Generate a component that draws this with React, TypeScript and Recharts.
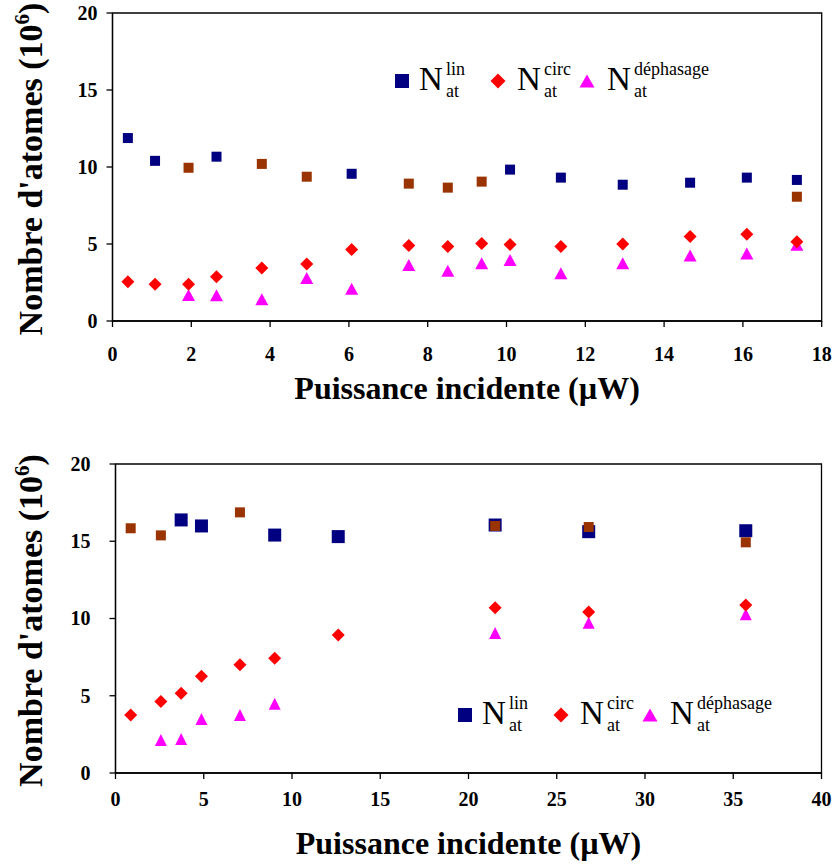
import { Label, Legend, ReferenceArea, Scatter, ScatterChart, XAxis, YAxis } from "recharts";

const FONT = '"Liberation Serif", "Times New Roman", serif';

const COLORS = {
  lin: "#000080",
  linAlt: "#993300",
  circ: "#FF0000",
  dephasage: "#FF00FF",
};

// top chart (0 - 18 µW)
const topTicksX = [0, 2, 4, 6, 8, 10, 12, 14, 16, 18];
const topLinX = [0.39, 1.08, 2.64, 6.07, 10.09, 11.38, 12.95, 14.66, 16.1, 17.37];
const topLinY = [11.88, 10.4, 10.67, 9.56, 9.83, 9.31, 8.85, 8.98, 9.31, 9.16];
const topLinAltX = [1.93, 3.79, 4.93, 7.52, 8.51, 9.37, 17.37];
const topLinAltY = [9.95, 10.2, 9.37, 8.92, 8.66, 9.05, 8.07];
const topCircX = [0.39, 1.08, 1.93, 2.64, 3.79, 4.93, 6.07, 7.52, 8.51, 9.37, 10.09, 11.38, 12.95, 14.66, 16.1, 17.37];
const topCircY = [2.55, 2.38, 2.38, 2.88, 3.44, 3.7, 4.65, 4.91, 4.83, 5.04, 4.96, 4.83, 5.0, 5.48, 5.63, 5.15];
const topDephX = [1.93, 2.64, 3.79, 4.93, 6.07, 7.52, 8.51, 9.37, 10.09, 11.38, 12.95, 14.66, 16.1, 17.37];
const topDephY = [1.69, 1.67, 1.41, 2.79, 2.1, 3.64, 3.27, 3.75, 3.96, 3.1, 3.75, 4.26, 4.39, 4.95];

// bottom chart (0 - 40 µW)
const bottomTicksX = [0, 5, 10, 15, 20, 25, 30, 35, 40];
const bottomLinX = [3.72, 4.87, 9.02, 12.62, 21.51, 26.81, 35.71];
const bottomLinY = [16.38, 15.99, 15.4, 15.3, 16.05, 15.62, 15.68];
const bottomLinAltX = [0.86, 2.57, 7.05, 21.51, 26.81, 35.71];
const bottomLinAltY = [15.84, 15.38, 16.87, 15.99, 15.92, 14.93];
const bottomCircX = [0.86, 2.57, 3.72, 4.87, 7.05, 9.02, 12.62, 21.51, 26.81, 35.71];
const bottomCircY = [3.75, 4.62, 5.16, 6.26, 7.01, 7.42, 8.93, 10.7, 10.42, 10.87];
const bottomDephX = [2.57, 3.72, 4.87, 7.05, 9.02, 21.51, 26.81, 35.71];
const bottomDephY = [2.14, 2.2, 3.5, 3.75, 4.49, 9.06, 9.73, 10.27];

const ticksY = [0, 5, 10, 15, 20];

const zip = (xs: number[], ys: number[]) => xs.map((x, i) => ({ x, y: ys[i] }));

const square = (size: number, color: string) => (p: any) =>
  <rect x={p.cx - size / 2} y={p.cy - size / 2} width={size} height={size} fill={color} />;

const diamond = (size: number, color: string) => (p: any) => {
  const h = size / 2;
  return (
    <polygon
      points={`${p.cx},${p.cy - h} ${p.cx + h},${p.cy} ${p.cx},${p.cy + h} ${p.cx - h},${p.cy}`}
      fill={color}
    />
  );
};

const triangle = (w: number, h: number, color: string) => (p: any) =>
  <polygon
    points={`${p.cx},${p.cy - h / 2} ${p.cx + w / 2},${p.cy + h / 2} ${p.cx - w / 2},${p.cy + h / 2}`}
    fill={color}
  />;

// tick labels drawn by hand so the serif font sticks
function XTick({ x, y, payload }: any) {
  return (
    <text x={x} y={y} dy="0.71em" textAnchor="middle" fontFamily={FONT} fontWeight="bold" fontSize={20} fill="#000">
      {payload.value}
    </text>
  );
}

function YTick({ x, y, payload }: any) {
  return (
    <text x={x} y={y} dy="0.34em" textAnchor="end" fontFamily={FONT} fontWeight="bold" fontSize={20} fill="#000">
      {payload.value}
    </text>
  );
}

function YTitle({ viewBox }: any) {
  const cx = viewBox.x + 42;
  const cy = viewBox.y + viewBox.height / 2 + 2;
  return (
    <text
      x={cx}
      y={cy}
      transform={`rotate(-90 ${cx} ${cy})`}
      textAnchor="middle"
      fontFamily={FONT}
      fontWeight="bold"
      fontSize={34}
      fill="#000"
    >
      Nombre d'atomes (10
      <tspan dy={-13} fontSize={21}>6</tspan>
      <tspan dy={13}>)</tspan>
    </text>
  );
}

function XTitle({ viewBox, dy }: any) {
  return (
    <text
      x={viewBox.x + viewBox.width / 2}
      y={viewBox.y + dy}
      textAnchor="middle"
      fontFamily={FONT}
      fontWeight="bold"
      fontSize={32}
      fill="#000"
    >
      Puissance incidente (µW)
    </text>
  );
}

function NLabel({ x, sup }: { x: number; sup: string }) {
  return (
    <g fontFamily={FONT} fill="#000">
      <text x={x} y={35} fontSize={33}>N</text>
      <text x={x + 27} y={20} fontSize={18}>{sup}</text>
      <text x={x + 27} y={42} fontSize={18}>at</text>
    </g>
  );
}

function AtomLegend() {
  return (
    <svg width={330} height={50} style={{ display: "block", overflow: "visible" }}>
      <rect x={5} y={19} width={14} height={14} fill={COLORS.lin} />
      <NLabel x={29} sup="lin" />
      <polygon points="108,18.5 115.5,26 108,33.5 100.5,26" fill={COLORS.circ} />
      <NLabel x={127} sup="circ" />
      <polygon points="197,19.5 204.5,32.5 189.5,32.5" fill={COLORS.dephasage} />
      <NLabel x={217} sup="déphasage" />
    </svg>
  );
}

const axisStroke = { stroke: "#000", strokeWidth: 1.3 };

export default function App() {
  return (
    <div
      style={{
        position: "absolute",
        left: 0,
        top: 0,
        width: 835,
        height: 865,
        background: "#fff",
        fontFamily: FONT,
      }}
    >
      <div style={{ position: "absolute", left: 0, top: 0 }}>
        <ScatterChart width={835} height={420} margin={{ top: 13, right: 13.3, bottom: 9, left: 0 }}>
          <XAxis
            type="number"
            dataKey="x"
            domain={[0, 18]}
            ticks={topTicksX}
            height={90}
            tickSize={6}
            tickMargin={20}
            tick={<XTick />}
            axisLine={axisStroke}
            tickLine={axisStroke}
          >
            <Label content={<XTitle dy={78} />} />
          </XAxis>
          <YAxis
            type="number"
            dataKey="y"
            domain={[0, 20]}
            ticks={ticksY}
            width={112.5}
            tickSize={6}
            tickMargin={9}
            tick={<YTick />}
            axisLine={axisStroke}
            tickLine={axisStroke}
          >
            <Label content={<YTitle />} />
          </YAxis>
          <ReferenceArea x1={0} x2={18} y1={0} y2={20} fill="none" stroke="#000" strokeWidth={1.3} />
          <Scatter data={zip(topDephX, topDephY)} shape={triangle(13, 12, COLORS.dephasage)} isAnimationActive={false} />
          <Scatter data={zip(topLinX, topLinY)} shape={square(10, COLORS.lin)} isAnimationActive={false} />
          <Scatter data={zip(topLinAltX, topLinAltY)} shape={square(10, COLORS.linAlt)} isAnimationActive={false} />
          <Scatter data={zip(topCircX, topCircY)} shape={diamond(13, COLORS.circ)} isAnimationActive={false} />
          <Legend
            layout="horizontal"
            verticalAlign="middle"
            align="center"
            content={() => <AtomLegend />}
            wrapperStyle={{ left: 390, top: 55, width: 330, height: 50 }}
          />
        </ScatterChart>
      </div>

      <div style={{ position: "absolute", left: 0, top: 440 }}>
        <ScatterChart width={835} height={425} margin={{ top: 24, right: 13.5, bottom: 2, left: 0 }}>
          <XAxis
            type="number"
            dataKey="x"
            domain={[0, 40]}
            ticks={bottomTicksX}
            height={90}
            tickSize={6}
            tickMargin={13}
            tick={<XTick />}
            axisLine={axisStroke}
            tickLine={axisStroke}
          >
            <Label content={<XTitle dy={81} />} />
          </XAxis>
          <YAxis
            type="number"
            dataKey="y"
            domain={[0, 20]}
            ticks={ticksY}
            width={115.5}
            tickSize={6}
            tickMargin={19}
            tick={<YTick />}
            axisLine={axisStroke}
            tickLine={axisStroke}
          >
            <Label content={<YTitle />} />
          </YAxis>
          <ReferenceArea x1={0} x2={40} y1={0} y2={20} fill="none" stroke="#000" strokeWidth={1.3} />
          <Scatter data={zip(bottomDephX, bottomDephY)} shape={triangle(12, 12, COLORS.dephasage)} isAnimationActive={false} />
          <Scatter data={zip(bottomLinX, bottomLinY)} shape={square(13, COLORS.lin)} isAnimationActive={false} />
          <Scatter data={zip(bottomLinAltX, bottomLinAltY)} shape={square(10, COLORS.linAlt)} isAnimationActive={false} />
          <Scatter data={zip(bottomCircX, bottomCircY)} shape={diamond(13, COLORS.circ)} isAnimationActive={false} />
          <Legend
            layout="horizontal"
            verticalAlign="middle"
            align="center"
            content={() => <AtomLegend />}
            wrapperStyle={{ left: 453, top: 249, width: 330, height: 50 }}
          />
        </ScatterChart>
      </div>
    </div>
  );
}
